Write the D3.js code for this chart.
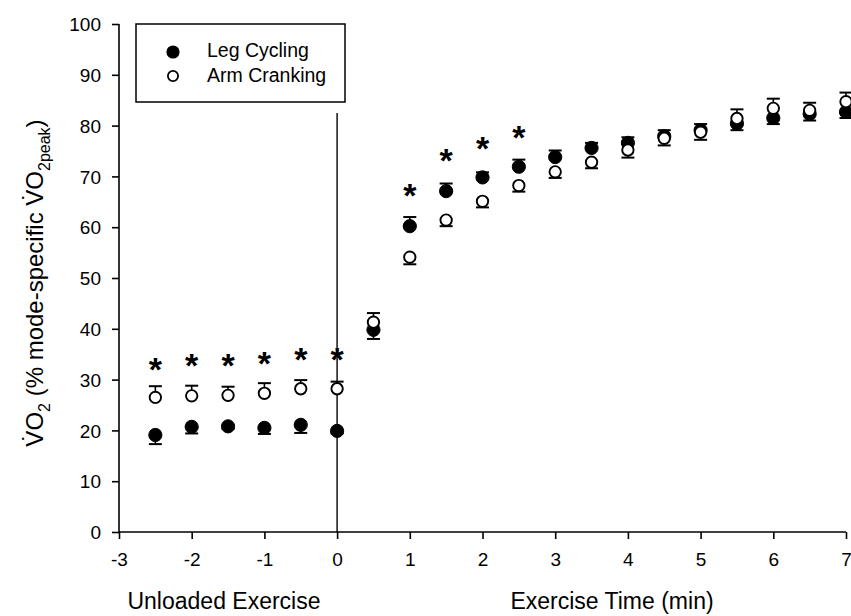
<!DOCTYPE html>
<html>
<head>
<meta charset="utf-8">
<script src="https://cdn.jsdelivr.net/npm/d3@7"></script>
<style>
  html, body { margin: 0; padding: 0; background: #fff; }
  svg { display: block; }
  text { font-family: "Liberation Sans", Arial, sans-serif; fill: #000; }
</style>
</head>
<body>
<svg id="chart" width="851" height="616"></svg>
<script>
// ---- data ----
const times = [-2.5, -2, -1.5, -1, -0.5, 0, 0.5, 1, 1.5, 2, 2.5, 3, 3.5, 4, 4.5, 5, 5.5, 6, 6.5, 7];
const legCycling = [19.1, 20.7, 20.8, 20.5, 21.1, 19.9, 39.8, 60.2, 67.1, 69.8, 71.9, 73.8, 75.6, 76.6, 77.9, 79.1, 80.4, 81.5, 82.3, 82.7];
const legSE      = [1.8, 1.3, 0.5, 1.2, 1.6, 0.5, 1.8, 1.8, 1.5, 1.0, 1.4, 1.3, 1.0, 1.1, 1.2, 1.2, 1.3, 1.2, 1.3, 1.2];
const legSEdir   = [-1, -1, -1, -1, -1, -1, -1, 1, 1, 1, 1, 1, 1, 1, 1, 1, -1, -1, -1, -1];
const armCranking = [26.5, 26.8, 26.9, 27.3, 28.2, 28.2, 41.3, 54.1, 61.4, 65.1, 68.2, 70.9, 72.8, 75.2, 77.5, 78.7, 81.4, 83.4, 83.0, 84.7];
const armSE       = [2.2, 2.0, 1.7, 2.0, 1.7, 1.4, 1.8, 1.4, 1.2, 1.2, 1.2, 1.2, 1.2, 1.5, 1.4, 1.5, 1.8, 1.9, 1.5, 1.8];
const armSEdir    = [1, 1, 1, 1, 1, 1, 1, -1, -1, -1, -1, -1, -1, -1, -1, -1, 1, 1, 1, 1];
const starTimes  = [-2.5, -2, -1.5, -1, -0.5, 0, 1, 1.5, 2, 2.5];
const starLevels = [33.5, 34.3, 34.3, 34.6, 35.4, 35.4, 67.7, 74.6, 77.0, 79.1];
const xTicks = [-3, -2, -1, 0, 1, 2, 3, 4, 5, 6, 7];
const yTicks = [0, 10, 20, 30, 40, 50, 60, 70, 80, 90, 100];
const seriesNames = ["Leg Cycling", "Arm Cranking"];
const onsetLineTop = 82.5;

// ---- layout ----
const svg = d3.select("#chart");
const x = d3.scaleLinear().domain([-3, 7]).range([119, 846]);
const y = d3.scaleLinear().domain([0, 100]).range([532, 24]);
const fmt = d => String(d);

// axes
const yAxis = svg.append("g").attr("transform", `translate(${x(-3)},0)`)
  .call(d3.axisLeft(y).tickValues(yTicks).tickSize(7).tickPadding(11).tickFormat(fmt));
const xAxis = svg.append("g").attr("transform", `translate(0,${y(0)})`)
  .call(d3.axisBottom(x).tickValues(xTicks).tickSize(7).tickPadding(14).tickFormat(fmt));
[xAxis, yAxis].forEach(g => {
  g.select(".domain").attr("stroke", "#000").attr("stroke-width", 1.6);
  g.selectAll(".tick line").attr("stroke", "#000").attr("stroke-width", 1.6);
  g.selectAll(".tick text").style("font-size", "19px").style("font-family", "'Liberation Sans', Arial, sans-serif").attr("fill", "#000");
});
yAxis.select(".domain").attr("d", `M0,${y(0)}V${y(100)}`);
yAxis.selectAll(".tick text").attr("dy", "0.35em");
xAxis.select(".domain").attr("d", `M${x(-3)},0H${x(7)}`);

// onset line at t=0
svg.append("line")
  .attr("x1", x(0)).attr("x2", x(0))
  .attr("y1", y(onsetLineTop)).attr("y2", y(0))
  .attr("stroke", "#000").attr("stroke-width", 1.4);

const r = 6.6, capW = 13;

function drawErrors(vals, se, dir) {
  const g = svg.append("g");
  times.forEach((t, i) => {
    const yEnd = y(vals[i] + dir[i] * se[i]);
    g.append("line").attr("x1", x(t)).attr("x2", x(t)).attr("y1", y(vals[i])).attr("y2", yEnd)
      .attr("stroke", "#000").attr("stroke-width", 1.6);
    g.append("line").attr("x1", x(t) - capW / 2).attr("x2", x(t) + capW / 2).attr("y1", yEnd).attr("y2", yEnd)
      .attr("stroke", "#000").attr("stroke-width", 2);
  });
}
drawErrors(legCycling, legSE, legSEdir);
drawErrors(armCranking, armSE, armSEdir);

// leg cycling (filled)
svg.append("g").selectAll("circle").data(times).join("circle")
  .attr("cx", d => x(d)).attr("cy", (d, i) => y(legCycling[i])).attr("r", r)
  .attr("fill", "#000").attr("stroke", "#000").attr("stroke-width", 1);
// arm cranking (open)
svg.append("g").selectAll("circle").data(times).join("circle")
  .attr("cx", d => x(d)).attr("cy", (d, i) => y(armCranking[i])).attr("r", r - 0.9)
  .attr("fill", "#fff").attr("stroke", "#000").attr("stroke-width", 1.9);

// significance stars
svg.append("g").selectAll("text").data(starTimes).join("text")
  .attr("x", d => x(d)).attr("y", (d, i) => y(starLevels[i]) + 19)
  .attr("text-anchor", "middle").style("font-size", "34px").style("font-weight", "bold")
  .text("*");

// legend
const lg = svg.append("g");
lg.append("rect").attr("x", 136).attr("y", 24).attr("width", 209).attr("height", 78)
  .attr("fill", "#fff").attr("stroke", "#000").attr("stroke-width", 1.5);
lg.append("circle").attr("cx", 173).attr("cy", 52).attr("r", r).attr("fill", "#000");
lg.append("circle").attr("cx", 173).attr("cy", 76).attr("r", r - 1.5).attr("fill", "#fff").attr("stroke", "#000").attr("stroke-width", 1.8);
lg.append("text").attr("x", 207).attr("y", 57).style("font-size", "19.5px").text(seriesNames[0]);
lg.append("text").attr("x", 207).attr("y", 82).style("font-size", "19.5px").text(seriesNames[1]);

// axis titles
svg.append("text").attr("x", 224).attr("y", 609).attr("text-anchor", "middle")
  .style("font-size", "23px").text("Unloaded Exercise");
svg.append("text").attr("x", 612).attr("y", 609).attr("text-anchor", "middle")
  .style("font-size", "23px").text("Exercise Time (min)");

// y-axis title with dotted V
const yt = svg.append("text").attr("transform", "translate(43,283) rotate(-90)")
  .attr("text-anchor", "middle").style("font-size", "24px");
yt.append("tspan").text("V\u0307O");
yt.append("tspan").attr("dy", 7).style("font-size", "16px").text("2");
yt.append("tspan").attr("dy", -7).text(" (% mode-specific V\u0307O");
yt.append("tspan").attr("dy", 7).style("font-size", "16px").text("2peak");
yt.append("tspan").attr("dy", -7).text(")");
</script>
</body>
</html>
